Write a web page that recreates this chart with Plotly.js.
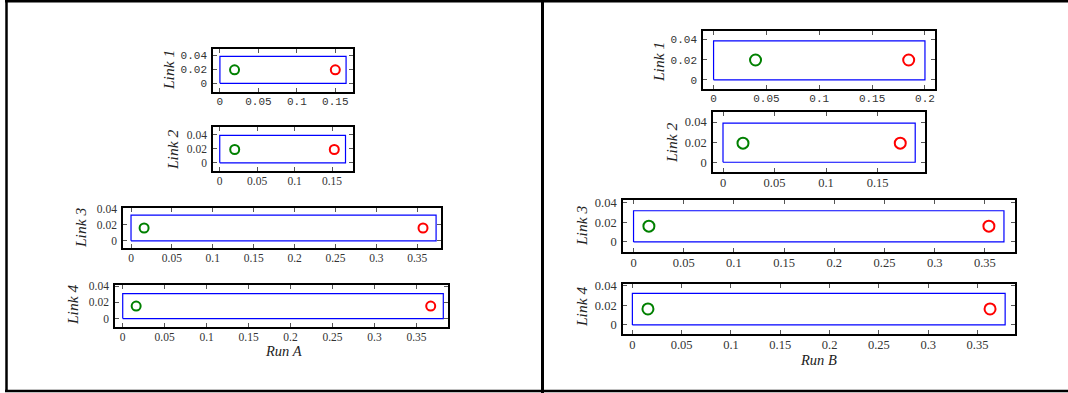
<!DOCTYPE html>
<html>
<head>
<meta charset="utf-8">
<script src="https://cdn.plot.ly/plotly-3.0.1.min.js"></script>
<style>html,body{margin:0;padding:0;background:#fff;}#chart{width:1068px;height:393px;}</style>
</head>
<body>
<div id="chart"></div>
<script>
// ---------- data ----------
const linkNames = ['Link 1', 'Link 2', 'Link 3', 'Link 4'];
const runNames = ['Run A', 'Run B'];

// Run A
const runA_boxWidth  = [0.164, 0.168, 0.373, 0.382];
const runA_boxHeight = [0.038, 0.039, 0.032, 0.031];
const runA_startX    = [0.019, 0.020, 0.016, 0.016];
const runA_startY    = [0.019, 0.019, 0.016, 0.0155];
const runA_endX      = [0.150, 0.153, 0.357, 0.367];
const runA_endY      = [0.019, 0.019, 0.016, 0.0155];

// Run B
const runB_boxWidth  = [0.200, 0.1865, 0.369, 0.378];
const runB_boxHeight = [0.0387, 0.039, 0.0318, 0.0322];
const runB_startX    = [0.0397, 0.0194, 0.0153, 0.0158];
const runB_startY    = [0.0197, 0.019, 0.0161, 0.0163];
const runB_endX      = [0.1846, 0.172, 0.354, 0.3627];
const runB_endY      = [0.0197, 0.019, 0.0161, 0.0163];

// ---------- layout geometry (pixels) ----------
const W = 1068, H = 393;
// [left, right, top, bottom]
const frames = [
  [213, 353, 49, 92], [213, 353, 127, 171], [123, 441, 208, 248], [115, 448, 285, 327],
  [703, 935, 31, 89], [713, 925, 112, 172], [623, 1015, 200, 252], [623, 1015, 284, 334]
];
const xRanges = [
  [-0.009, 0.173], [-0.009, 0.178], [-0.0098, 0.379], [-0.0092, 0.3876],
  [-0.010, 0.2095], [-0.0097, 0.196], [-0.0105, 0.380], [-0.0095, 0.388]
];
const yRanges = [
  [-0.0123, 0.0485], [-0.0116, 0.051], [-0.009, 0.041], [-0.0105, 0.0416],
  [-0.0091, 0.0485], [-0.0097, 0.050], [-0.0103, 0.0428], [-0.0092, 0.0417]
];
const labelPos = [[168, 70], [172, 150], [80, 228], [72, 305], [659, 62], [671, 143], [581, 226], [581, 307]];
const runLabelPos = [[283, 351], [818, 360]];

const runs = [
  {w: runA_boxWidth, h: runA_boxHeight, sx: runA_startX, sy: runA_startY, ex: runA_endX, ey: runA_endY, msize: 9},
  {w: runB_boxWidth, h: runB_boxHeight, sx: runB_startX, sy: runB_startY, ex: runB_endX, ey: runB_endY, msize: 11}
];

const traces = [];
const layout = {
  width: W, height: H,
  margin: {l: 0, r: 0, t: 0, b: 0},
  paper_bgcolor: '#fff', plot_bgcolor: '#fff',
  showlegend: false,
  shapes: [], annotations: []
};

const serif = 'Liberation Serif, Times New Roman, serif';
const mono = 'Liberation Mono, Courier New, monospace';

for (let r = 0; r < 2; r++) {
  const run = runs[r];
  for (let k = 0; k < 4; k++) {
    const i = r * 4 + k;
    const n = i + 1;
    const xa = n === 1 ? 'x' : 'x' + n;
    const ya = n === 1 ? 'y' : 'y' + n;
    const w = run.w[k], h = run.h[k];
    traces.push({
      x: [0, w, w, 0, 0], y: [0, 0, h, h, 0],
      xaxis: xa, yaxis: ya, mode: 'lines', type: 'scatter',
      line: {color: '#0000ff', width: 1.2}, hoverinfo: 'skip'
    });
    traces.push({
      x: [run.sx[k]], y: [run.sy[k]], xaxis: xa, yaxis: ya, mode: 'markers', type: 'scatter',
      marker: {symbol: 'circle-open', size: run.msize, color: '#008000', line: {width: 2, color: '#008000'}}
    });
    traces.push({
      x: [run.ex[k]], y: [run.ey[k]], xaxis: xa, yaxis: ya, mode: 'markers', type: 'scatter',
      marker: {symbol: 'circle-open', size: run.msize, color: '#ff0000', line: {width: 2, color: '#ff0000'}}
    });
    const f = frames[i];
    const isMono = (k === 0);
    const tf = {family: isMono ? mono : serif, size: isMono ? 11 : (r === 0 ? 11.5 : 12.5), color: '#333'};
    const common = {
      showline: true, linecolor: '#000', linewidth: 1.8, mirror: 'ticks',
      ticks: 'inside', ticklen: 4, tickcolor: '#555', tickwidth: 1,
      showgrid: false, zeroline: false, tickfont: tf, fixedrange: true
    };
    layout['xaxis' + (n === 1 ? '' : n)] = Object.assign({}, common, {
      domain: [f[0] / W, f[1] / W], range: xRanges[i], dtick: 0.05, tick0: 0,
      anchor: ya, ticklabelstandoff: -2
    });
    layout['yaxis' + (n === 1 ? '' : n)] = Object.assign({}, common, {
      domain: [1 - f[3] / H, 1 - f[2] / H], range: yRanges[i], dtick: 0.02, tick0: 0,
      anchor: xa, ticklabelstandoff: 2
    });
    layout.annotations.push({
      text: linkNames[k], xref: 'paper', yref: 'paper',
      x: labelPos[i][0] / W, y: 1 - labelPos[i][1] / H, xanchor: 'center', yanchor: 'middle',
      textangle: -90, showarrow: false,
      font: {family: serif, size: 15.5, color: '#222', style: 'italic'}
    });
  }
  layout.annotations.push({
    text: runNames[r], xref: 'paper', yref: 'paper',
    x: runLabelPos[r][0] / W, y: 1 - runLabelPos[r][1] / H, xanchor: 'center', yanchor: 'middle',
    showarrow: false, font: {family: serif, size: 14.5, color: '#222', style: 'italic'}
  });
}

// outer figure borders
const ln = (x0, y0, x1, y1, wd) => ({type: 'line', xref: 'paper', yref: 'paper',
  x0: x0 / W, y0: 1 - y0 / H, x1: x1 / W, y1: 1 - y1 / H, line: {color: '#000', width: wd}});
layout.shapes.push(ln(6.5, 1, 6.5, 392, 2.5));
layout.shapes.push(ln(5, 1.2, 1068, 1.2, 2.5));
layout.shapes.push(ln(542.5, 0, 542.5, 393, 3));
layout.shapes.push(ln(5, 391, 1068, 391, 2.5));

Plotly.newPlot('chart', traces, layout, {staticPlot: true, displayModeBar: false});
</script>
</body>
</html>
